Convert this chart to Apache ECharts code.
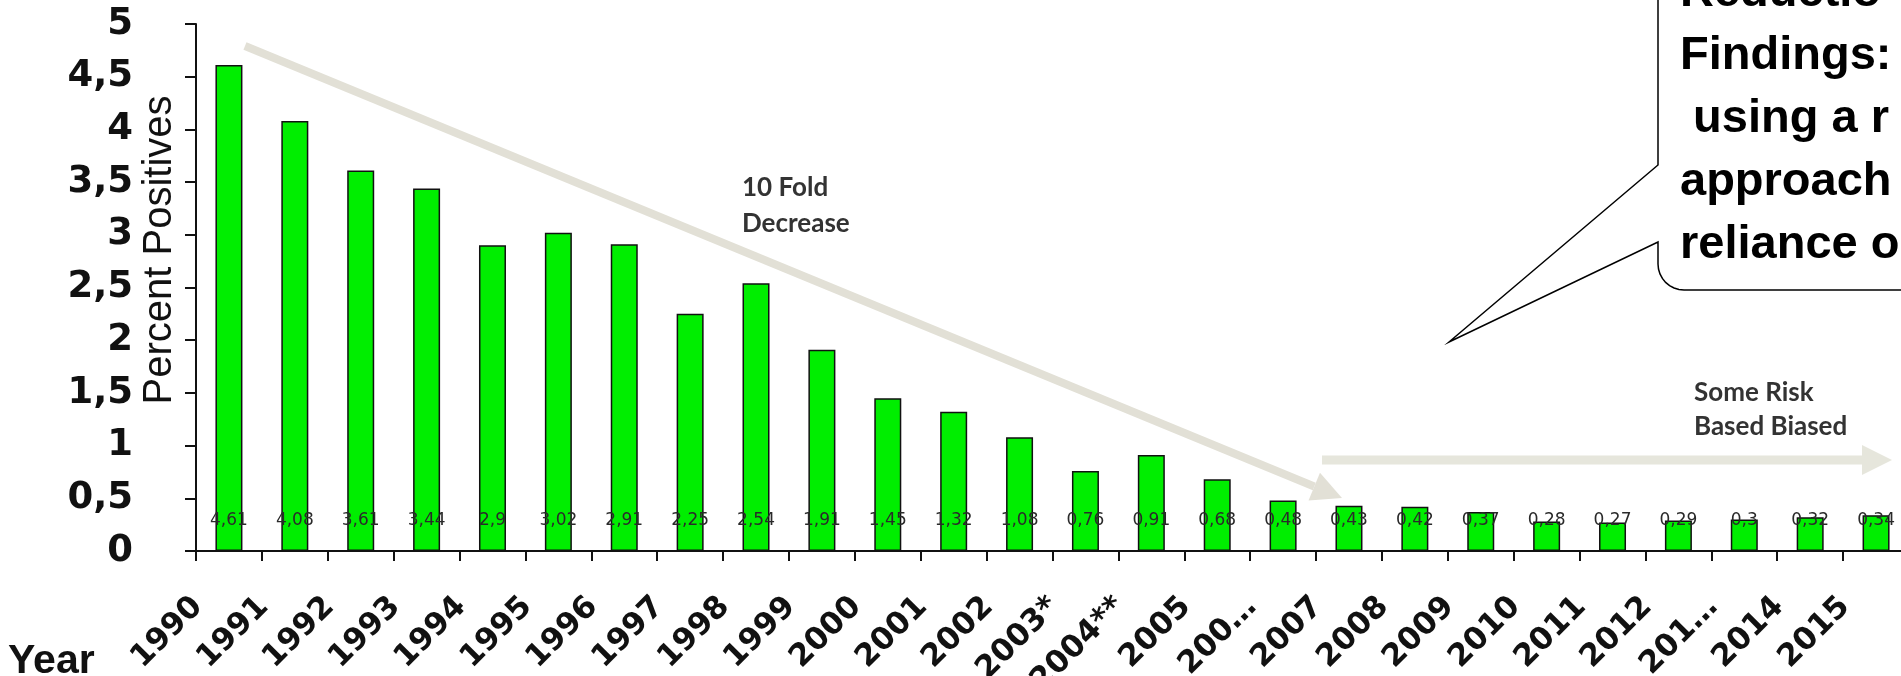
<!DOCTYPE html>
<html>
<head>
<meta charset="utf-8">
<script src="https://cdn.jsdelivr.net/npm/echarts@6/dist/echarts.min.js"></script>
<style>
html,body{margin:0;padding:0;background:#fff;}
#chart{width:1901px;height:676px;}
</style>
</head>
<body>
<div id="chart"></div>
<script>
const categories = ['1990','1991','1992','1993','1994','1995','1996','1997','1998','1999','2000','2001','2002','2003*','2004**','2005','200…','2007','2008','2009','2010','2011','2012','201…','2014','2015'];
const percentPositives = [4.61,4.08,3.61,3.44,2.9,3.02,2.91,2.25,2.54,1.91,1.45,1.32,1.08,0.76,0.91,0.68,0.48,0.43,0.42,0.37,0.28,0.27,0.29,0.3,0.32,0.34];
const yTicks = [0,0.5,1,1.5,2,2.5,3,3.5,4,4.5,5];
const yAxisTitle = 'Percent Positives';
const xAxisTitle = 'Year';
const trendNote1 = '10 Fold\nDecrease';
const trendNote2 = 'Some Risk\nBased Biased';
const calloutLines = ['Reductio','Findings:',' using a r','approach','reliance o'];

const comma = v => String(v).replace('.', ',');
const FONT = '"Liberation Sans", Arial, sans-serif';
const WIDE = '"DejaVu Sans", "Liberation Sans", sans-serif';

const chart = echarts.init(document.getElementById('chart'), null, {renderer:'canvas'});

function arrow(x1,y1,x2,y2,w,hl,hw,color){
  const dx=x2-x1, dy=y2-y1, L=Math.hypot(dx,dy), ux=dx/L, uy=dy/L;
  const bx=x2-ux*hl, by=y2-uy*hl, px=-uy, py=ux;
  return [
    {type:'line', shape:{x1:x1,y1:y1,x2:bx,y2:by}, style:{stroke:color,lineWidth:w,lineCap:'butt'}, z:5},
    {type:'polygon', shape:{points:[[x2,y2],[bx+px*hw,by+py*hw],[bx-px*hw,by-py*hw]]}, style:{fill:color}, z:5}
  ];
}

// callout outline with rounded bottom-left corner
const R = 26, EDGE_X = 1658, BOTTOM = 290;
const corner = [];
for (let i=0;i<=8;i++){ const t=i/8*Math.PI/2; corner.push([EDGE_X+R-R*Math.cos(t), BOTTOM-R+R*Math.sin(t)]); }
const calloutPath = [[EDGE_X,-5],[EDGE_X,165],[1449,342],[EDGE_X,242]].concat(corner).concat([[1910,BOTTOM]]);

const option = {
  animation:false,
  backgroundColor:'#fff',
  grid:{left:196, top:24, width:1713, height:527, containLabel:false, outerBoundsMode:'none'},
  xAxis:{
    type:'category',
    data:categories,
    boundaryGap:true,
    axisLine:{lineStyle:{color:'#111',width:2}},
    axisTick:{show:true, interval:0, length:10, alignWithLabel:false, lineStyle:{color:'#111',width:2}},
    axisLabel:{interval:0, rotate:45, margin:20, padding:[0,44,0,0], fontSize:31, fontWeight:'bold', color:'#111', fontFamily:WIDE}
  },
  yAxis:{
    type:'value',
    min:yTicks[0], max:yTicks[yTicks.length-1], interval:0.5,
    splitLine:{show:false},
    axisLine:{show:true, lineStyle:{color:'#111',width:2}},
    axisTick:{show:true, length:11, lineStyle:{color:'#111',width:2}},
    axisLabel:{margin:63, fontSize:37, fontWeight:'bold', color:'#111', fontFamily:WIDE, formatter:comma}
  },
  series:[{
    type:'bar',
    data:percentPositives,
    barWidth:27,
    itemStyle:{color:'#00ee00', borderColor:'#111', borderWidth:1.5},
    label:{show:true, position:'insideBottom', distance:22, fontSize:17, color:'#2a2a2a', fontFamily:WIDE, formatter:p=>comma(p.value)}
  }],
  graphic:[
    ...arrow(245,46,1342,498,8,30,15,'#e2e0d6'),
    ...arrow(1322,460,1892,460,9,30,15,'#e6e6dc'),
    {type:'text', x:742, y:206, z:6, style:{text:trendNote1, font:'bold 26px Lato, "Open Sans", sans-serif', fill:'#333', lineHeight:36, textAlign:'left', textVerticalAlign:'middle'}},
    {type:'text', x:1694, y:410, z:6, style:{text:trendNote2, font:'bold 26px Lato, "Open Sans", sans-serif', fill:'#333', lineHeight:34, textAlign:'left', textVerticalAlign:'middle'}},
    {type:'polyline', z:6, shape:{points:calloutPath}, style:{fill:null, stroke:'#000', lineWidth:1.5}},
    {type:'text', x:1680, y:-38, z:6, style:{text:calloutLines.join('\n'), font:'bold 47px '+FONT, fill:'#000', lineHeight:63, textAlign:'left', textVerticalAlign:'top'}},
    {type:'text', x:160, y:250, rotation:Math.PI/2, z:6, style:{text:yAxisTitle, font:'40px '+FONT, fill:'#111', textAlign:'center', textVerticalAlign:'middle'}},
    {type:'text', x:8, y:662, z:6, style:{text:xAxisTitle, font:'bold 41px '+FONT, fill:'#111', textAlign:'left', textVerticalAlign:'middle'}}
  ]
};
chart.setOption(option);
</script>
</body>
</html>
